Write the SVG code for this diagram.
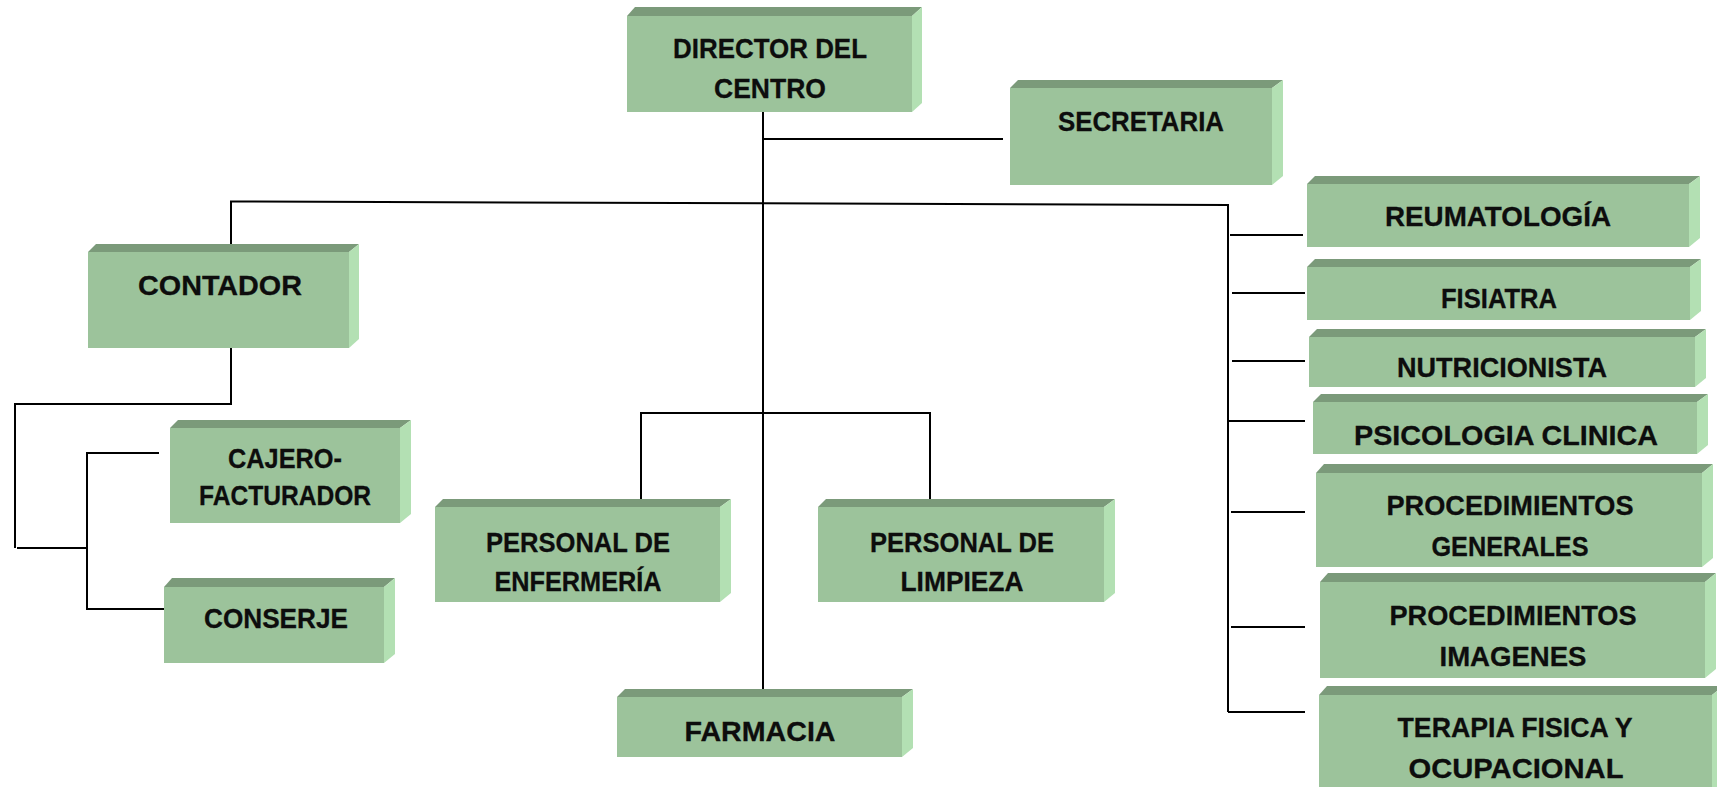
<svg xmlns="http://www.w3.org/2000/svg" width="1717" height="787" viewBox="0 0 1717 787">
<style>
.face{fill:#9cc39b}
.top{fill:#7b9a7a}
.side{fill:#b3e0b3}
text{font-family:"Liberation Sans",Arial,sans-serif;font-weight:bold;font-size:28px;fill:#0d0d0d;stroke:#0d0d0d;stroke-width:0.3;text-anchor:middle}
.ln{stroke:#000;stroke-width:2;fill:none}
</style>
<rect width="1717" height="787" fill="#fff"/>
<g id="connectors">
<path class="ln" d="M763 112V690"/>
<path class="ln" d="M763 139H1003"/>
<path class="ln" d="M231 245V201.5L1228 205V712"/>
<path class="ln" d="M1230 235H1303M1232 293H1305M1232 361H1305M1228 421H1305M1231 512H1305M1231 627H1305M1228 712H1305"/>
<path class="ln" d="M231 348V404H15V548"/>
<path class="ln" d="M17 548H88"/>
<path class="ln" d="M159 453H87V609H165"/>
<path class="ln" d="M641 500V413H930V500"/>
</g>
<g id="director">
<path class="top" d="M627 16L635 7H922L912 16Z"/><path class="side" d="M912 16L922 7V103L912 112Z"/><rect class="face" x="627" y="16" width="285" height="96"/>
<text x="770" y="58" textLength="194" lengthAdjust="spacingAndGlyphs">DIRECTOR DEL</text><text x="770" y="98" textLength="112" lengthAdjust="spacingAndGlyphs">CENTRO</text>
</g>
<g id="secretaria">
<path class="top" d="M1010 88L1018 80H1283L1272 88Z"/><path class="side" d="M1272 88L1283 80V176L1272 185Z"/><rect class="face" x="1010" y="88" width="262" height="97"/>
<text x="1141" y="131" textLength="166" lengthAdjust="spacingAndGlyphs">SECRETARIA</text>
</g>
<g id="contador">
<path class="top" d="M88 252L96 244H359L349 252Z"/><path class="side" d="M349 252L359 244V339L349 348Z"/><rect class="face" x="88" y="252" width="261" height="96"/>
<text x="220" y="295" textLength="164" lengthAdjust="spacingAndGlyphs">CONTADOR</text>
</g>
<g id="cajero">
<path class="top" d="M170 428L178 420H411L400 428Z"/><path class="side" d="M400 428L411 420V514L400 523Z"/><rect class="face" x="170" y="428" width="230" height="95"/>
<text x="285" y="468" textLength="114" lengthAdjust="spacingAndGlyphs">CAJERO-</text><text x="285" y="505" textLength="172" lengthAdjust="spacingAndGlyphs">FACTURADOR</text>
</g>
<g id="conserje">
<path class="top" d="M164 587L172 578H395L384 587Z"/><path class="side" d="M384 587L395 578V654L384 663Z"/><rect class="face" x="164" y="587" width="220" height="76"/>
<text x="276" y="628" textLength="144" lengthAdjust="spacingAndGlyphs">CONSERJE</text>
</g>
<g id="enfermeria">
<path class="top" d="M435 507L443 499H731L720 507Z"/><path class="side" d="M720 507L731 499V593L720 602Z"/><rect class="face" x="435" y="507" width="285" height="95"/>
<text x="578" y="552" textLength="184" lengthAdjust="spacingAndGlyphs">PERSONAL DE</text><text x="578" y="591" textLength="167" lengthAdjust="spacingAndGlyphs">ENFERMERÍA</text>
</g>
<g id="limpieza">
<path class="top" d="M818 507L826 499H1115L1104 507Z"/><path class="side" d="M1104 507L1115 499V593L1104 602Z"/><rect class="face" x="818" y="507" width="286" height="95"/>
<text x="962" y="552" textLength="184" lengthAdjust="spacingAndGlyphs">PERSONAL DE</text><text x="962" y="591" textLength="123" lengthAdjust="spacingAndGlyphs">LIMPIEZA</text>
</g>
<g id="farmacia">
<path class="top" d="M617 697L625 689H913L902 697Z"/><path class="side" d="M902 697L913 689V748L902 757Z"/><rect class="face" x="617" y="697" width="285" height="60"/>
<text x="760" y="741" textLength="151" lengthAdjust="spacingAndGlyphs">FARMACIA</text>
</g>
<g id="reumatologia">
<path class="top" d="M1307 184L1315 176H1700L1689 184Z"/><path class="side" d="M1689 184L1700 176V238L1689 247Z"/><rect class="face" x="1307" y="184" width="382" height="63"/>
<text x="1498" y="226" textLength="226" lengthAdjust="spacingAndGlyphs">REUMATOLOGÍA</text>
</g>
<g id="fisiatra">
<path class="top" d="M1307 267L1315 259H1701L1690 267Z"/><path class="side" d="M1690 267L1701 259V311L1690 320Z"/><rect class="face" x="1307" y="267" width="383" height="53"/>
<text x="1499" y="308" textLength="116" lengthAdjust="spacingAndGlyphs">FISIATRA</text>
</g>
<g id="nutricionista">
<path class="top" d="M1309 337L1317 329H1706L1695 337Z"/><path class="side" d="M1695 337L1706 329V378L1695 387Z"/><rect class="face" x="1309" y="337" width="386" height="50"/>
<text x="1502" y="377" textLength="210" lengthAdjust="spacingAndGlyphs">NUTRICIONISTA</text>
</g>
<g id="psicologia">
<path class="top" d="M1313 402L1321 394H1708L1697 402Z"/><path class="side" d="M1697 402L1708 394V445L1697 454Z"/><rect class="face" x="1313" y="402" width="384" height="52"/>
<text x="1506" y="445" textLength="304" lengthAdjust="spacingAndGlyphs">PSICOLOGIA CLINICA</text>
</g>
<g id="procedimientos-generales">
<path class="top" d="M1316 473L1324 464H1713L1702 473Z"/><path class="side" d="M1702 473L1713 464V558L1702 567Z"/><rect class="face" x="1316" y="473" width="386" height="94"/>
<text x="1510" y="515" textLength="247" lengthAdjust="spacingAndGlyphs">PROCEDIMIENTOS</text><text x="1510" y="556" textLength="157" lengthAdjust="spacingAndGlyphs">GENERALES</text>
</g>
<g id="procedimientos-imagenes">
<path class="top" d="M1320 582L1328 573H1716L1705 582Z"/><path class="side" d="M1705 582L1716 573V669L1705 678Z"/><rect class="face" x="1320" y="582" width="385" height="96"/>
<text x="1513" y="625" textLength="247" lengthAdjust="spacingAndGlyphs">PROCEDIMIENTOS</text><text x="1513" y="666" textLength="147" lengthAdjust="spacingAndGlyphs">IMAGENES</text>
</g>
<g id="terapia">
<path class="top" d="M1319 695L1327 686H1723L1712 695Z"/><path class="side" d="M1712 695L1723 686V800L1712 810Z"/><rect class="face" x="1319" y="695" width="393" height="115"/>
<text x="1515" y="737" textLength="235" lengthAdjust="spacingAndGlyphs">TERAPIA FISICA Y</text><text x="1516" y="778" textLength="215" lengthAdjust="spacingAndGlyphs">OCUPACIONAL</text>
</g>
</svg>
